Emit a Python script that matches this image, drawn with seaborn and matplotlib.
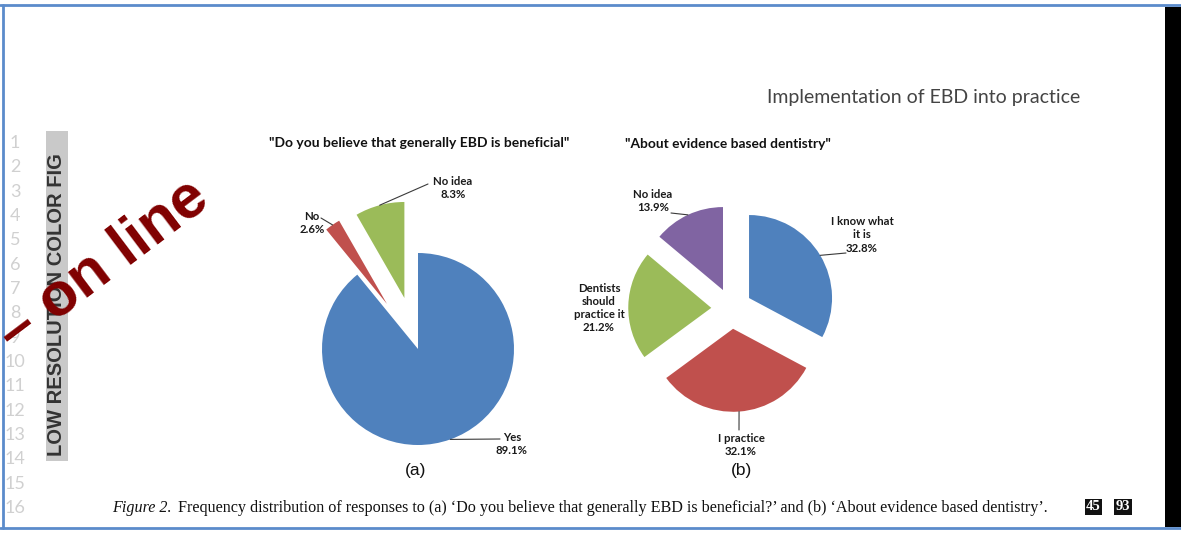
import numpy as np
import seaborn as sns
import matplotlib.pyplot as plt

# data
labels_a = ["Yes", "No", "No idea"]
share_a = [89.1, 2.6, 8.3]
labels_b = ["I know what\nit is", "I practice", "Dentists\nshould\npractice it", "No idea"]
share_b = [32.8, 32.1, 21.2, 13.9]

title_a = '"Do you believe that generally EBD is beneficial"'
title_b = '"About evidence based dentistry"'
caption = ("Frequency distribution of responses to (a) \u2018Do you believe that generally "
           "EBD is beneficial?\u2019 and (b) \u2018About evidence based dentistry\u2019.")

W, H = 1181, 534

sns.set_theme(style="white")
colors_a = sns.color_palette(["#4F81BD", "#C0504D", "#9BBB59"])
colors_b = sns.color_palette(["#4F81BD", "#C0504D", "#9BBB59", "#8064A2"])

fig = plt.figure(figsize=(W / 100, H / 100), dpi=100)
page = fig.add_axes([0, 0, 1, 1])
page.set_xlim(0, W)
page.set_ylim(H, 0)
page.axis("off")

# page frame
blue = "#5B8BCB"
page.plot([0, W], [5, 5], color=blue, lw=2)
page.plot([3, 3], [5, 528], color=blue, lw=2)
page.plot([0, W], [528, 528], color=blue, lw=2)
page.add_patch(plt.Rectangle((1165, 7), 16, 520, color="black", lw=0))

page.text(1080, 98, "Implementation of EBD into practice", ha="right", va="center",
          fontsize=14, family="Lato", color="#444444")

# line numbers
for i in range(16):
    page.text(15, 143 + i * 24.33, str(i + 1), ha="center", va="center",
              fontsize=13, family="Lato", color="#d0d0d0")

# grey sticker and watermark
page.add_patch(plt.Rectangle((46, 131), 22, 330, color="#c9c9c9", lw=0))
page.text(57, 305, "LOW RESOLUTION COLOR FIG", rotation=90, ha="center", va="center",
          fontsize=14.5, family="Liberation Sans", fontweight="bold", color="#333333")
page.text(103, 266, "\u2013 on line", rotation=37, ha="center", va="center",
          fontsize=44, family="Liberation Sans", fontweight="bold", color="#800000")


def pie_axes(cx, cy, r, half=160):
    ax = fig.add_axes([(cx - half) / W, (H - cy - half) / H, 2 * half / W, 2 * half / H])
    ax.set_xlim(-half / r, half / r)
    ax.set_ylim(-half / r, half / r)
    ax.axis("off")
    return ax


def leader(ax, wedge, end):
    mid = np.deg2rad((wedge.theta1 + wedge.theta2) / 2)
    x0, y0 = wedge.center
    xy = (x0 + wedge.r * np.cos(mid), y0 + wedge.r * np.sin(mid))
    ax.annotate("", xy=xy, xytext=end, textcoords=page.transData, annotation_clip=False,
                arrowprops=dict(arrowstyle="-", color="#3a3a3a", lw=0.8,
                                shrinkA=0, shrinkB=0))


lab_kw = dict(ha="center", va="center", fontsize=8.2, family="Lato",
              fontweight="bold", color="#1a1a1a", linespacing=1.25)

# (a)
ax_a = pie_axes(418, 349, 96)
wa, _ = ax_a.pie(share_a, colors=colors_a, startangle=90, counterclock=False,
                 explode=[0, 0.57, 0.55], radius=1, wedgeprops=dict(lw=0))
ax_a.set_xlim(-160 / 96, 160 / 96)
ax_a.set_ylim(-160 / 96, 160 / 96)
page.text(419, 143, title_a, ha="center", va="center", fontsize=10,
          family="Lato", fontweight="bold", color="#111111")
pos_a = [(512, 444), (312, 223), (453, 188)]
ends_a = [(500, 439), (321, 218), (428, 184)]
for w, lab, v, p, e in zip(wa, labels_a, share_a, pos_a, ends_a):
    page.text(p[0], p[1], f"{lab}\n{v:.1f}%", **lab_kw)
    leader(ax_a, w, e)
page.text(416, 470, "(a)", ha="center", va="center", fontsize=12.5,
          family="Liberation Sans", color="#111111")

# (b)
ax_b = pie_axes(731.6, 308.5, 83)
wb, _ = ax_b.pie(share_b, colors=colors_b, startangle=90, counterclock=False,
                 explode=[0.245] * 4, radius=1, wedgeprops=dict(lw=0))
ax_b.set_xlim(-160 / 83, 160 / 83)
ax_b.set_ylim(-160 / 83, 160 / 83)
page.text(728, 144, title_b, ha="center", va="center", fontsize=9.9,
          family="Lato", fontweight="bold", color="#111111")
pos_b = [(862, 235), (741, 445), (599, 308), (653, 201)]
ends_b = [(846, 253), (739, 430), None, (671, 213)]
for w, lab, v, p, e in zip(wb, labels_b, share_b, pos_b, ends_b):
    page.text(p[0], p[1], f"{lab}\n{v:.1f}%", **lab_kw)
    if e is not None:
        leader(ax_b, w, e)
page.text(741, 470, "(b)", ha="center", va="center", fontsize=12.5,
          family="Liberation Sans", color="#111111")

# caption
fig_lab = page.text(112, 516, "Figure 2.", ha="left", va="bottom", fontsize=11.6,
                    family="Liberation Serif", style="italic", color="#111111")
page.annotate(caption, xy=(1, 0), xycoords=fig_lab, xytext=(4.5, 0),
              textcoords="offset points", ha="left", va="bottom", fontsize=11.6,
              family="Liberation Serif", color="#111111")
for x, t in [(1093.5, "45"), (1123, "93")]:
    page.text(x, 507, t, ha="center", va="center", fontsize=10.5, family="Liberation Serif",
              fontweight="bold", color="white",
              bbox=dict(boxstyle="square,pad=0.1", fc="#111111", ec="none"))

fig.savefig("out.png", dpi=100)
